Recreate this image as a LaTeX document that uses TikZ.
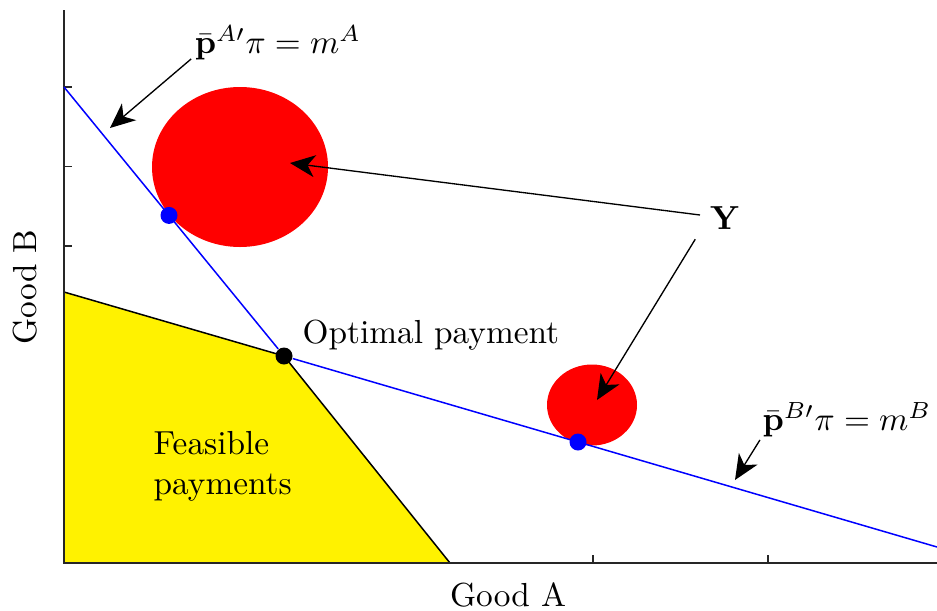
\documentclass[tikz,border=0pt]{standalone}
\usetikzlibrary{arrows.meta}
\begin{document}
\begin{tikzpicture}[x=0.3pt, y=0.3pt,
    axis/.style={black!85, line width=0.5pt},
    budget/.style={blue, line width=0.45pt},
    leader/.style={black, line width=0.4pt, -{Stealth[length=7.5pt, width=6.6pt, inset=2.2pt]}},
    note/.style={inner sep=0pt}]
  \useasboundingbox (-64,-47) rectangle (873,563);
  % feasible set
  \fill[yellow] (0,0) -- (0,271) -- (220,207) -- (386,0) -- cycle;
  \draw[black, line width=0.45pt] (0,271) -- (220,207) -- (386,0);
  % axes and ticks
  \draw[axis] (0,553) -- (0,0) -- (873,0);
  \foreach \ty in {317,396.5,476} \draw[axis] (0,\ty) -- (8,\ty);
  \foreach \tx in {529,704} \draw[axis] (\tx,0) -- (\tx,8);
  % sets Y
  \fill[red] (176,396) ellipse [x radius=88, y radius=80];
  \fill[red] (528,158) ellipse [x radius=45, y radius=40.5];
  % budget lines
  \coordinate (topA) at (0,476);
  \coordinate (endB) at (873,16);
  \node[circle, fill=black, inner sep=0pt, minimum size=17*0.3pt] (opt) at (220,207) {};
  \draw[budget] (topA) -- (opt) -- (endB);
  \fill[blue] (105,347.6) circle (8.5);
  \fill[blue] (514,121) circle (8.5);
  % labels
  \node[note, anchor=west] (optlbl) at (238,228) {Optimal payment};
  \node[note, anchor=west, align=left] (feas) at (89,97) {Feasible\\payments};
  \node (ylbl) at (661,345) {$\mathbf{Y}$};
  \node[note] (eqA) at (214,520) {$\bar{\mathbf{p}}^{A\prime}\pi = m^A$};
  \node[note] (eqB) at (783,143) {$\bar{\mathbf{p}}^{B\prime}\pi = m^B$};
  \node (goodA) at (444,-32) {Good A};
  \node[rotate=90] (goodB) at (-39,276) {Good B};
  % arrows
  \coordinate (inbig) at (226,400);
  \coordinate (insmall) at (533,163);
  \coordinate (onA) at (46,435);
  \coordinate (onB) at (671,83);
  \draw[leader] (636,348) -- (inbig);
  \draw[leader] (ylbl.south west) ++(-3,2) -- (insmall);
  \draw[leader] (eqA.south west) ++(-3,2) -- (onA);
  \draw[leader] (eqB.south west) ++(-2,-2) -- (onB);
\end{tikzpicture}
\end{document}
